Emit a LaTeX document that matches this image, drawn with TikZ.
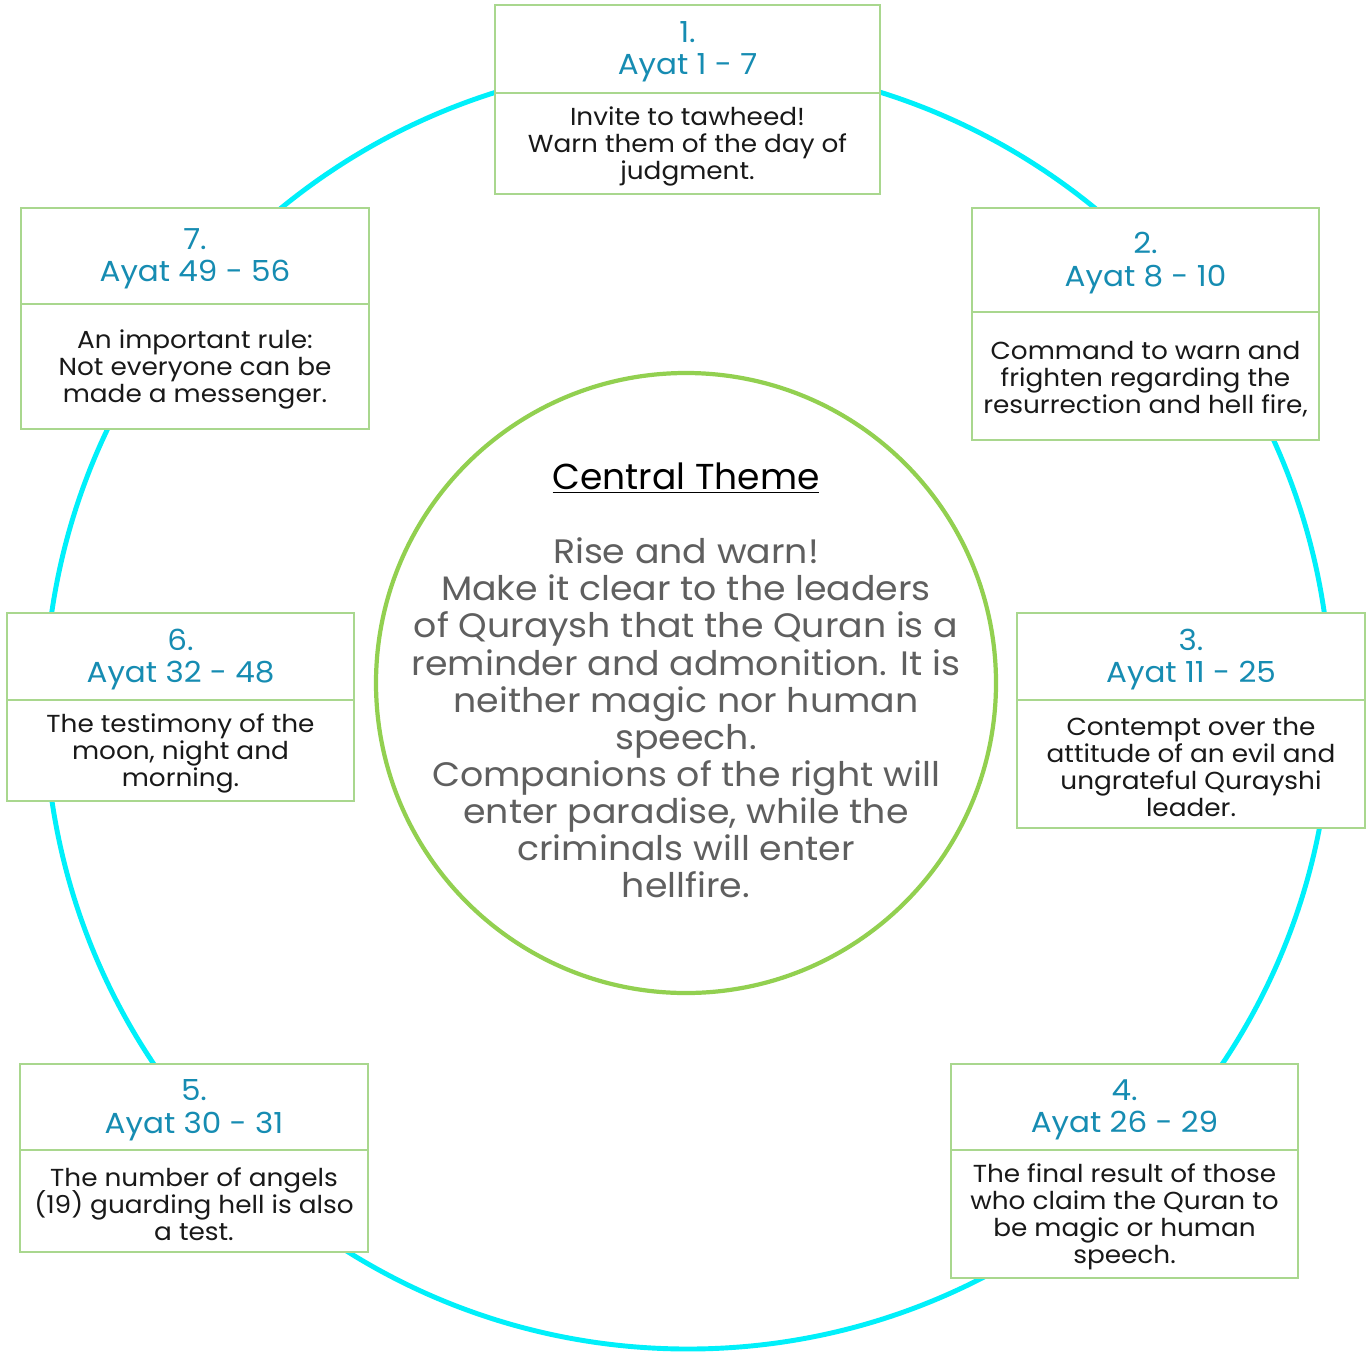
\documentclass[tikz,border=0pt]{standalone}
\usepackage{fontspec}
\setmainfont{Poppins}[FakeStretch=1.07]
\newfontfamily\plainp{Poppins}
\definecolor{cyanring}{RGB}{0,240,250}
\definecolor{greenring}{RGB}{146,208,80}
\definecolor{boxline}{RGB}{169,215,142}
\definecolor{ttl}{RGB}{22,140,178}
\definecolor{gtxt}{RGB}{95,95,95}
\tikzset{
  ringbig/.style={draw=cyanring, line width=2.8pt},
  ringsmall/.style={draw=greenring, line width=2.4pt},
  panel/.style={draw=boxline, line width=0.8pt, fill=white, inner sep=0pt},
  hdr/.style={inner sep=0pt, align=center, text=ttl, font={\fontsize{16.5}{18.5}\selectfont\lineskiplimit=-20pt}},
  bdy/.style={inner sep=0pt, align=center, text=black!90, font={\fontsize{14}{15.3}\selectfont\lineskiplimit=-20pt}},
}
\newcommand\ayabox[8]{%
  \node[panel, minimum width={(#4-#2)*0.02cm}, minimum height={(#5-#3)*0.02cm}]
    (#1h) at ({(#2+#4)/2},{(#3+#5)/2}) {};
  \node[panel, minimum width={(#4-#2)*0.02cm}, minimum height={(#6-#5)*0.02cm}]
    (#1b) at ({(#2+#4)/2},{(#5+#6)/2}) {};
  \node[hdr] (#1ht) at ({(#2+#4)/2},{(#3+#5)/2+3}) {#7};
  \node[bdy] (#1bt) at ({(#2+#4)/2},{(#5+#6)/2+3}) {#8};
}
\begin{document}
\begin{tikzpicture}[x=0.02cm,y=-0.02cm]
\useasboundingbox[fill=white] (0,0) rectangle (1371,1352);
\node[circle, ringbig, minimum size={1286*0.02cm}, inner sep=0pt] (outer) at (688,706) {};
\node[circle, ringsmall, minimum size={620*0.02cm}, inner sep=0pt] (inner) at (686,683) {};
\node[font=\plainp\fontsize{20.5}{22}\selectfont, text=black] (ctitle) at (686,478) {\underline{Central Theme}};
\node[font={\fontsize{19.3}{21.15}\selectfont\lineskiplimit=-20pt}, text=gtxt, align=center] (ctext) at (686,718)
 {Rise and warn!\\Make it clear to the leaders\\of Quraysh that the Quran is a\\reminder and admonition. It is\\neither magic nor human\\speech.\\Companions of the right will\\enter paradise, while the\\criminals will enter\\hellfire.};
\ayabox{b1}{495}{5}{880}{93}{194}{1.\\Ayat 1 - 7}{Invite to tawheed!\\Warn them of the day of\\judgment.}
\ayabox{b2}{972}{208}{1319}{312}{440}{2.\\Ayat 8 - 10}{Command to warn and\\frighten regarding the\\resurrection and hell fire,}
\ayabox{b3}{1017}{613}{1365}{700}{828}{3.\\Ayat 11 - 25}{Contempt over the\\attitude of an evil and\\ungrateful Qurayshi\\leader.}
\ayabox{b4}{951}{1064}{1298}{1150}{1278}{4.\\Ayat 26 - 29}{The final result of those\\who claim the Quran to\\be magic or human\\speech.}
\ayabox{b5}{20}{1064}{368}{1150}{1252}{5.\\Ayat 30 - 31}{The number of angels\\(19) guarding hell is also\\a test.}
\ayabox{b6}{7}{613}{354}{700}{801}{6.\\Ayat 32 - 48}{The testimony of the\\moon, night and\\morning.}
\ayabox{b7}{21}{208}{369}{304}{429}{7.\\Ayat 49 - 56}{An important rule:\\Not everyone can be\\made a messenger.}
\end{tikzpicture}
\end{document}
